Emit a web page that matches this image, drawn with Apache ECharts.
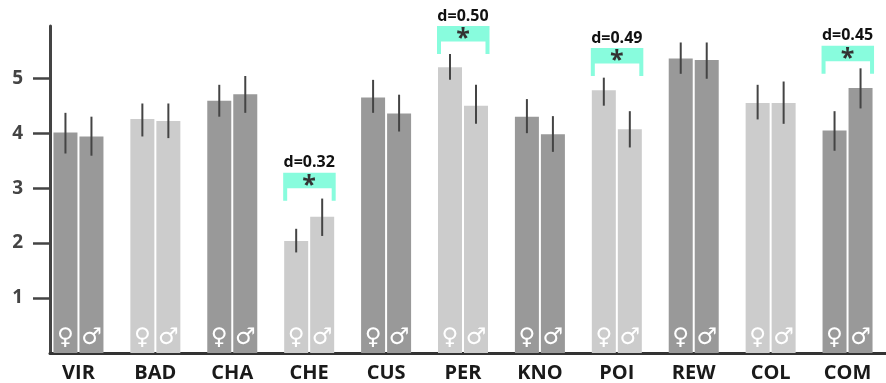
<!DOCTYPE html>
<html>
<head>
<meta charset="utf-8">
<script src="https://cdn.jsdelivr.net/npm/echarts@6/dist/echarts.min.js"></script>
<style>html,body{margin:0;padding:0;background:#fff}#c{width:886px;height:383px}</style>
</head>
<body>
<div id="c"></div>
<script>
const categories = ['VIR','BAD','CHA','CHE','CUS','PER','KNO','POI','REW','COL','COM'];
const femaleMean = [4.01,4.26,4.59,2.04,4.65,5.20,4.30,4.78,5.36,4.55,4.05];
const maleMean   = [3.94,4.22,4.71,2.48,4.36,4.50,3.98,4.07,5.33,4.55,4.82];
const femaleLow  = [3.63,3.94,4.30,1.83,4.37,4.97,4.00,4.50,5.08,4.25,3.68];
const femaleHigh = [4.37,4.54,4.88,2.26,4.97,5.44,4.62,5.01,5.65,4.88,4.40];
const maleLow    = [3.59,3.91,4.37,2.13,4.03,4.17,3.66,3.74,4.99,4.17,4.45];
const maleHigh   = [4.30,4.54,5.04,2.81,4.70,4.88,4.31,4.40,5.65,4.94,5.18];
const sigCats    = ['CHE','PER','POI','COM'];
const sigBase    = [2.77,5.44,5.04,5.08];
const sigD       = ['d=0.32','d=0.50','d=0.49','d=0.45'];
const yTicks     = [1,2,3,4,5];
const yMax = 5.95;

const DARK = '#999999', LIGHT = '#cccccc';
const shade = i => (i % 2 === 0 ? DARK : LIGHT);

function barData(vals){ return vals.map((v,i)=>({value:v, itemStyle:{color:shade(i)}})); }
function errData(lo,hi){ return categories.map((c,i)=>[i, lo[i], hi[i]]); }
function errRender(off){
  return function(params, api){
    const idx = api.value(0);
    const a = api.coord([idx, api.value(1)]);
    const b = api.coord([idx, api.value(2)]);
    const x = a[0] + off;
    return {type:'line', shape:{x1:x,y1:a[1],x2:x,y2:b[1]}, style:{stroke:'#444', lineWidth:2}};
  };
}
const font = '"Open Sans", "DejaVu Sans", sans-serif';

const option = {
  animation:false,
  grid:[
    {left:40, width:858, top:26, bottom:30},
    {left:50, right:0, top:26, bottom:30}
  ],
  xAxis:[
    {gridIndex:0, type:'category', data:categories,
     axisLine:{show:false}, axisTick:{show:false},
     axisLabel:{fontSize:20, fontWeight:'bold', color:'#1a1a1a', fontFamily:font, margin:10}},
    {gridIndex:1, type:'value', min:0, max:1,
     axisLine:{show:true, lineStyle:{color:'#333', width:3}},
     axisTick:{show:false}, axisLabel:{show:false}, splitLine:{show:false}}
  ],
  yAxis:[
    {gridIndex:0, type:'value', min:0, max:yMax, show:false},
    {gridIndex:1, type:'value', min:0, max:yMax, interval:1,
     axisLine:{show:true, lineStyle:{color:'#444', width:3}},
     axisTick:{show:true, length:17, customValues:yTicks, lineStyle:{color:'#444', width:2.5}},
     axisLabel:{customValues:yTicks, fontSize:19, fontWeight:'bold', color:'#444', fontFamily:font, margin:27},
     splitLine:{show:false}}
  ],
  series:[
    {type:'bar', xAxisIndex:0, yAxisIndex:0, data:barData(femaleMean), barWidth:24, barGap:'8.33%',
     label:{show:true, position:'insideBottom', distance:3, formatter:'\u2640', color:'#fff', fontSize:23, fontFamily:'"DejaVu Sans"'}},
    {type:'bar', xAxisIndex:0, yAxisIndex:0, data:barData(maleMean), barWidth:24, barGap:'8.33%',
     label:{show:true, position:'insideBottom', distance:3, formatter:'\u2642', color:'#fff', fontSize:23, fontFamily:'"DejaVu Sans"'}},
    {type:'custom', xAxisIndex:0, yAxisIndex:0, data:errData(femaleLow,femaleHigh), renderItem:errRender(-13), z:5},
    {type:'custom', xAxisIndex:0, yAxisIndex:0, data:errData(maleLow,maleHigh), renderItem:errRender(13), z:5},
    {type:'custom', xAxisIndex:0, yAxisIndex:0, z:6,
     data: sigCats.map((c,k)=>[categories.indexOf(c), sigBase[k], sigD[k]]),
     renderItem:function(params, api){
       const p = api.coord([api.value(0), api.value(1)]);
       const cx = p[0], y = p[1];
       const l = cx - 26, r = cx + 26.5, lw = 4, top = y - 28, band = y - 12.5;
       return {type:'group', children:[
         {type:'polygon', shape:{points:[[l,y],[l,top],[r,top],[r,y],[r-lw,y],[r-lw,band],[l+lw,band],[l+lw,y]]},
          style:{fill:'#88fcdd'}},
         {type:'text', style:{text:'*', x:cx, y:(top+band)/2 + 5, align:'center', verticalAlign:'middle',
          font:'bold 25px "Open Sans", sans-serif', fill:'#333'}},
         {type:'text', style:{text:api.value(2), x:cx, y:top - 10, align:'center', verticalAlign:'middle',
          font:'bold 16px "Open Sans", sans-serif', fill:'#111'}}
       ]};
     }}
  ]
};
const chart = echarts.init(document.getElementById('c'), null, {renderer:'canvas'});
chart.setOption(option);
</script>
</body>
</html>
